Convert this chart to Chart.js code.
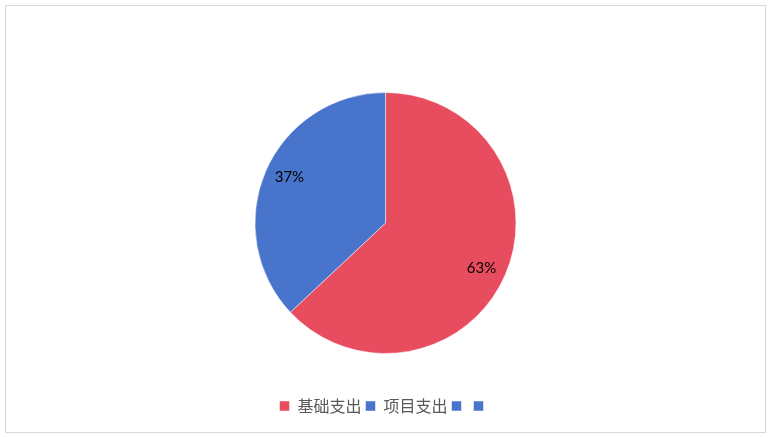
<!DOCTYPE html>
<html>
<head>
<meta charset="utf-8">
<script src="https://cdn.jsdelivr.net/npm/chart.js@4"></script>
<style>
  html, body { margin: 0; padding: 0; background: #ffffff; }
  #wrap { position: relative; width: 773px; height: 438px; }
</style>
</head>
<body>
<div id="wrap"><canvas id="c" width="773" height="438"></canvas></div>
<script>
const categories = ["基础支出", "项目支出", "", ""];
const values = [63, 37, 0, 0];
const colors = ["#E84D5F", "#4874CB", "#4874CB", "#4874CB"];

const frame = {
  id: 'frame',
  beforeDraw(chart) {
    const ctx = chart.ctx;
    ctx.save();
    ctx.fillStyle = '#ffffff';
    ctx.fillRect(0, 0, chart.width, chart.height);
    ctx.strokeStyle = '#D9D9D9';
    ctx.lineWidth = 1;
    ctx.strokeRect(5.5, 5.5, 760, 427);
    ctx.restore();
  }
};

const pctLabels = {
  id: 'pctLabels',
  afterDatasetsDraw(chart) {
    const ctx = chart.ctx;
    const meta = chart.getDatasetMeta(0);
    const data = chart.data.datasets[0].data;
    const total = data.reduce((a, b) => a + b, 0);
    ctx.save();
    ctx.font = '15px Lato, "Liberation Sans", sans-serif';
    ctx.fillStyle = '#000000';
    ctx.textAlign = 'center';
    ctx.textBaseline = 'middle';
    meta.data.forEach((arc, i) => {
      if (!data[i]) return;
      const p = arc.getProps(['x', 'y', 'startAngle', 'endAngle', 'outerRadius'], true);
      const mid = (p.startAngle + p.endAngle) / 2 + 0.035;
      const r = p.outerRadius * 0.815;
      const tx = p.x + Math.cos(mid) * r;
      const ty = p.y + Math.sin(mid) * r;
      ctx.fillText(Math.round(data[i] / total * 100) + '%', tx, ty);
    });
    ctx.restore();
  }
};

new Chart(document.getElementById('c'), {
  type: 'pie',
  data: {
    labels: categories,
    datasets: [{
      data: values,
      backgroundColor: colors,
      borderColor: '#ffffff',
      borderWidth: 0.5
    }]
  },
  options: {
    responsive: false,
    animation: false,
    radius: 130.5,
    layout: { padding: { top: 52, bottom: 14, left: 0, right: 2 } },
    plugins: {
      legend: {
        position: 'bottom',
        labels: {
          boxWidth: 10,
          boxHeight: 10,
          padding: 4,
          color: '#595959',
          font: { family: '"Noto Sans CJK SC", sans-serif', size: 16 }
        }
      },
      tooltip: { enabled: false }
    }
  },
  plugins: [frame, pctLabels]
});
</script>
</body>
</html>
